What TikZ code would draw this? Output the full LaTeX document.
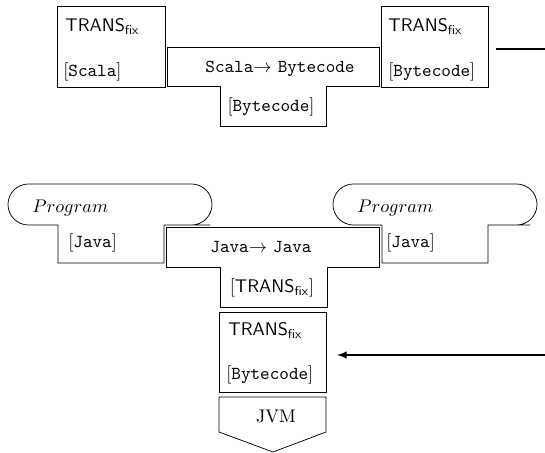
\documentclass[tikz,border=0pt]{standalone}
\usepackage{amssymb,amsmath}
\usetikzlibrary{calc}
\tikzset{>=latex}
\newcommand{\transfix}{\textsf{TRANS}$_{\textsf{fix}}$}

\begin{document}
\begin{tikzpicture}[x=0.547pt,y=-0.547pt,
    lbl/.style={inner sep=0pt,anchor=base west},
    mid/.style={inner sep=0pt,anchor=base}]
  \useasboundingbox (0,0) rectangle (545,453);
  % top row: compiling the translator
  \draw (57,6) rectangle (165,87);
  \node[lbl] (tsrc) at (65,32) {\transfix};
  \node[lbl] (tsrclang) at (63,77) {[\texttt{Scala}]};
  \draw (167,47) -- (379,47) -- (379,86) -- (326,86) -- (326,126)
        -- (220,126) -- (220,86) -- (167,86) -- cycle;
  \node[mid] (sc) at (280,73) {\texttt{Scala}$\rightarrow$ \texttt{Bytecode}};
  \node[mid] (scimpl) at (271,112) {[\texttt{Bytecode}]};
  \draw (381,6) rectangle (488,87);
  \node[lbl] (tout) at (388,32) {\transfix};
  \node[lbl] (toutlang) at (388,77) {[\texttt{Bytecode}]};
  \coordinate (topout) at (496,49);
  % bottom row: running the translator
  \draw (58,263) -- (58,225) -- (40,225) [rounded corners=11.2pt] -- (8,225)
        -- (8,184) -- (212,184) -- (212,225) -- (190,225) [sharp corners]
        -- (164,225) -- (164,263) -- cycle;
  \node[lbl] (prog) at (32,213) {$Program$};
  \node[lbl] (proglang) at (68,248) {[\texttt{Java}]};
  \draw (166,227) -- (379,227) -- (379,267) -- (327,267) -- (327,307)
        -- (220,307) -- (220,267) -- (166,267) -- cycle;
  \node[mid] (jj) at (261,253) {\texttt{Java}$\rightarrow$ \texttt{Java}};
  \node[mid] (jjimpl) at (272,293) {[\transfix]};
  \draw (382,263) -- (382,225) -- (360,225) [rounded corners=11.2pt] -- (333,225)
        -- (333,184) -- (537,184) -- (537,225) -- (510,225) [sharp corners]
        -- (488,225) -- (488,263) -- cycle;
  \node[lbl] (prog2) at (357,213) {$Program$};
  \node[lbl] (prog2lang) at (386,248) {[\texttt{Java}]};
  \draw (219,312) rectangle (326,392);
  \node[lbl] (tbot) at (228,336) {\transfix};
  \node[lbl] (tbotlang) at (226,380) {[\texttt{Bytecode}]};
  \coordinate (botin) at (337,355);
  \draw (219,397) -- (326,397) -- (326,432) -- (273,452) -- (219,432) -- cycle;
  \node[mid] (jvm) at (276,423) {JVM};
  % the compiled translator is used below
  \draw[thick,->] (topout) -- ++(80,0) |- (botin);
\end{tikzpicture}
\end{document}
